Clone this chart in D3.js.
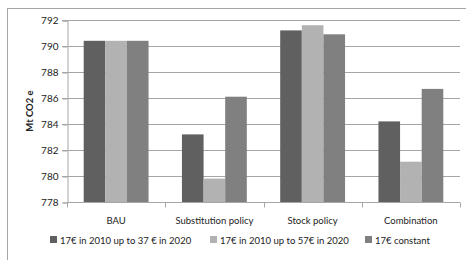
<!DOCTYPE html>
<html>
<head>
<meta charset="utf-8">
<script src="https://cdn.jsdelivr.net/npm/d3@7"></script>
<style>
  body { margin: 0; background: #fff; }
  svg text { font-family: Lato, "Open Sans", sans-serif; fill: #222; }
</style>
</head>
<body>
<div id="chart"></div>
<script>
// scenario categories and series
const categories = ["BAU", "Substitution policy", "Stock policy", "Combination"];
const seriesNames = ["17€ in 2010 up to 37 € in 2020", "17€ in 2010 up to 57€ in 2020", "17€ constant"];
const series37 = [790.4, 783.2, 791.2, 784.2];
const series57 = [790.4, 779.8, 791.6, 781.1];
const seriesConst = [790.4, 786.1, 790.9, 786.7];
const yTicks = [778, 780, 782, 784, 786, 788, 790, 792];

const colors = ["#606060", "#b2b2b2", "#808080"];
const allSeries = [series37, series57, seriesConst];

const width = 466, height = 260;
const margin = {top: 20, right: 6, bottom: 58, left: 67};

const svg = d3.select("#chart").append("svg")
    .attr("width", width)
    .attr("height", height);

// outer frame
svg.append("rect")
    .attr("x", 7.5).attr("y", 8.5)
    .attr("width", width).attr("height", height)
    .attr("fill", "none")
    .attr("stroke", "#a6a6a6");

let x = d3.scaleBand()
    .domain(categories)
    .range([margin.left, width - margin.right])
    .paddingInner(0.34)
    .paddingOuter(0.17);

let xSub = d3.scaleBand()
    .domain(d3.range(seriesNames.length))
    .range([0, x.bandwidth()]);

let y = d3.scaleLinear()
    .domain([778, 792])
    .range([height - margin.bottom, margin.top]);

// gridlines
svg.append("g")
    .selectAll("line")
    .data(yTicks.slice(1))
    .enter()
    .append("line")
    .attr("x1", margin.left - 5)
    .attr("x2", width - margin.right)
    .attr("y1", d => Math.round(y(d)) + 0.5)
    .attr("y2", d => Math.round(y(d)) + 0.5)
    .attr("stroke", "#a6a6a6");

// bars
let groups = svg.append("g")
    .selectAll("g")
    .data(categories)
    .enter()
    .append("g")
    .attr("transform", d => `translate(${x(d)},0)`);

groups.selectAll("rect")
    .data((d, ci) => allSeries.map((s, si) => ({si: si, v: s[ci]})))
    .enter()
    .append("rect")
    .attr("x", d => xSub(d.si))
    .attr("width", xSub.bandwidth())
    .attr("y", d => y(d.v))
    .attr("height", d => y(778) - y(d.v))
    .attr("fill", d => colors[d.si]);

// y axis
let yAxis = d3.axisLeft(y).tickValues(yTicks).tickSize(5).tickPadding(4);
let yg = svg.append("g")
    .attr("transform", `translate(${margin.left + 0.5},0.5)`)
    .call(yAxis);
yg.select(".domain").attr("stroke", "#a6a6a6");
yg.selectAll(".tick line").attr("stroke", "#a6a6a6");
yg.selectAll(".tick text").style("font-size", "10px").attr("fill", "#222");

// x axis
let step = x.step();
let xg = svg.append("g")
    .attr("transform", `translate(0,${Math.round(y(778)) + 0.5})`);
xg.append("line")
    .attr("x1", margin.left).attr("x2", width - margin.right)
    .attr("stroke", "#a6a6a6");
xg.selectAll(".xtick")
    .data(d3.range(categories.length + 1))
    .enter()
    .append("line")
    .attr("x1", i => Math.round(margin.left + x.paddingOuter() * step - x.paddingInner() * step / 2 + i * step) + 0.5)
    .attr("x2", i => Math.round(margin.left + x.paddingOuter() * step - x.paddingInner() * step / 2 + i * step) + 0.5)
    .attr("y1", 0).attr("y2", 5)
    .attr("stroke", "#a6a6a6");
xg.selectAll(".xlabel")
    .data(categories)
    .enter()
    .append("text")
    .attr("x", d => x(d) + x.bandwidth() / 2)
    .attr("y", 21)
    .attr("text-anchor", "middle")
    .style("font-size", "9.5px")
    .text(d => d);

// y title
svg.append("text")
    .attr("transform", `translate(33,${(margin.top + height - margin.bottom) / 2}) rotate(-90)`)
    .attr("text-anchor", "middle")
    .style("font-size", "9.5px")
    .style("font-weight", "bold")
    .text("Mt CO2 e");

// legend
const legendX = [50, 210, 365];
let legend = svg.append("g")
    .selectAll("g")
    .data(seriesNames)
    .enter()
    .append("g")
    .attr("transform", (d, i) => `translate(${legendX[i]},240)`);
legend.append("rect")
    .attr("x", 0).attr("y", -4)
    .attr("width", 7).attr("height", 7)
    .attr("fill", (d, i) => colors[i]);
legend.append("text")
    .attr("x", 10).attr("y", 3.5)
    .style("font-size", "9.5px")
    .text(d => d);
</script>
</body>
</html>
